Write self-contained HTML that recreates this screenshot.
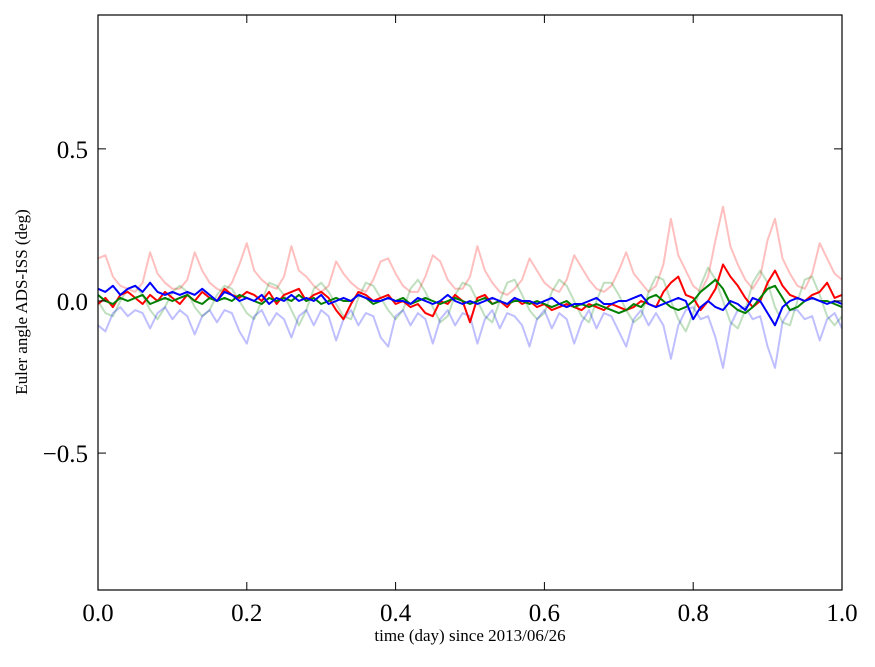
<!DOCTYPE html>
<html><head><meta charset="utf-8"><style>
body{margin:0;background:#fff}
svg text{font-family:"Liberation Serif",serif;fill:#000}
</style></head><body>
<svg id="chart" width="875" height="662"></svg>
<script>
const xTicks=[0,0.2,0.4,0.6,0.8,1.0];
const xTickLabels=["0.0","0.2","0.4","0.6","0.8","1.0"];
const yTicks=[-0.5,0,0.5];
const yTickLabels=["\u22120.5","0.0","0.5"];
const tStep=0.01;
const redFaded=[0.14,0.15,0.08,0.05,0.04,0.03,0.06,0.16,0.09,0.06,0.04,0.04,0.07,0.16,0.10,0.06,0.04,0.03,0.06,0.12,0.19,0.10,0.07,0.05,0.04,0.08,0.18,0.10,0.08,0.05,0.03,0.05,0.13,0.09,0.06,0.04,0.03,0.07,0.13,0.14,0.09,0.05,0.03,0.03,0.08,0.15,0.13,0.07,0.04,0.04,0.08,0.18,0.10,0.06,0.03,0.02,0.04,0.07,0.14,0.10,0.06,0.04,0.03,0.07,0.15,0.11,0.07,0.04,0.03,0.05,0.10,0.16,0.09,0.06,0.03,0.05,0.12,0.27,0.15,0.10,0.05,0.03,0.08,0.20,0.31,0.18,0.12,0.07,0.04,0.08,0.20,0.27,0.14,0.09,0.05,0.04,0.09,0.19,0.14,0.09,0.07];
const blueFaded=[-0.08,-0.10,-0.04,-0.02,-0.05,-0.03,-0.04,-0.09,-0.04,-0.02,-0.06,-0.03,-0.05,-0.11,-0.05,-0.03,-0.07,-0.03,-0.04,-0.10,-0.14,-0.05,-0.03,-0.08,-0.04,-0.06,-0.12,-0.05,-0.03,-0.08,-0.03,-0.05,-0.13,-0.06,-0.03,-0.08,-0.04,-0.05,-0.12,-0.15,-0.05,-0.03,-0.08,-0.04,-0.06,-0.14,-0.06,-0.03,-0.08,-0.04,-0.05,-0.14,-0.06,-0.03,-0.09,-0.04,-0.05,-0.08,-0.15,-0.06,-0.03,-0.09,-0.04,-0.06,-0.14,-0.07,-0.03,-0.09,-0.04,-0.05,-0.10,-0.15,-0.06,-0.03,-0.08,-0.04,-0.08,-0.19,-0.08,-0.03,-0.02,-0.06,-0.05,-0.12,-0.22,-0.08,-0.03,-0.02,-0.06,-0.05,-0.15,-0.22,-0.07,-0.03,-0.03,-0.06,-0.05,-0.13,-0.06,-0.04,-0.09];
const greenFaded=[0.0,-0.04,-0.05,0.0,0.04,0.05,0.02,-0.03,-0.06,-0.02,0.03,0.05,0.03,-0.02,-0.05,-0.03,0.02,0.05,0.04,0.0,-0.04,-0.06,0.0,0.06,0.05,0.02,-0.03,-0.08,-0.03,0.04,0.06,0.03,-0.01,-0.05,-0.06,0.01,0.06,0.05,0.01,-0.03,-0.06,-0.03,0.04,0.07,0.03,-0.02,-0.07,-0.05,0.02,0.06,0.05,0.0,-0.05,-0.07,0.0,0.06,0.07,0.02,-0.03,-0.06,-0.04,0.03,0.07,0.05,0.0,-0.05,-0.07,0.0,0.06,0.06,0.02,-0.03,-0.07,-0.05,0.03,0.08,0.07,0.0,-0.06,-0.10,-0.04,0.05,0.11,0.07,0.0,-0.07,-0.09,-0.03,0.06,0.10,0.06,-0.02,-0.07,-0.08,0.0,0.07,0.08,0.02,-0.05,-0.08,-0.05];
const redBold=[-0.01,0.01,-0.02,0.02,0.03,0.01,-0.01,0.02,0.0,0.03,0.01,-0.01,0.02,0.0,0.03,0.01,0.0,0.04,0.02,0.01,0.03,0.02,0.0,0.03,-0.01,0.02,0.03,0.04,0.0,0.02,0.03,0.01,-0.03,-0.06,-0.01,0.03,0.02,0.0,0.01,0.02,-0.01,0.0,-0.02,-0.01,-0.04,-0.05,0.0,-0.01,0.02,0.0,-0.07,0.01,0.02,-0.01,0.0,-0.02,0.01,-0.01,0.0,-0.02,-0.01,-0.03,-0.02,-0.01,-0.02,-0.03,-0.01,-0.02,-0.03,-0.01,-0.02,-0.03,-0.02,0.0,-0.01,-0.02,0.03,0.06,0.08,0.02,0.01,-0.03,0.0,0.04,0.12,0.08,0.05,0.01,-0.02,0.0,0.06,0.10,0.05,0.02,0.01,0.0,0.02,0.03,0.06,0.01,0.02];
const greenBold=[0.02,0.0,-0.01,0.01,0.0,0.01,0.02,-0.01,0.0,0.01,0.0,0.01,0.02,0.0,-0.01,0.01,0.0,0.01,0.0,0.02,0.01,0.0,-0.01,0.01,0.0,0.01,0.0,0.02,0.0,0.01,-0.01,0.0,0.01,0.0,0.0,0.02,0.01,-0.01,0.0,0.01,0.0,0.01,-0.01,0.0,0.01,0.0,-0.01,0.0,0.01,0.0,-0.01,0.0,0.01,-0.01,0.0,-0.01,0.0,0.0,-0.01,0.0,-0.01,-0.02,-0.01,0.0,-0.02,-0.01,-0.02,-0.01,-0.02,-0.03,-0.04,-0.03,-0.01,-0.02,0.01,0.02,0.0,-0.02,-0.03,-0.02,0.0,0.03,0.05,0.07,0.04,-0.01,-0.03,-0.04,-0.02,0.01,0.04,0.05,0.01,-0.03,-0.02,0.0,0.01,0.0,0.0,-0.01,-0.02];
const blueBold=[0.04,0.03,0.05,0.02,0.04,0.05,0.03,0.06,0.03,0.02,0.03,0.02,0.03,0.02,0.04,0.02,0.0,0.03,0.02,0.0,0.01,0.0,0.02,-0.01,0.01,0.0,0.02,0.0,0.01,0.0,0.02,-0.01,0.0,0.01,0.0,0.02,0.01,0.0,0.0,0.01,0.0,0.0,-0.01,0.01,0.0,-0.01,0.0,0.02,0.0,-0.01,0.0,-0.01,0.0,0.01,0.0,-0.01,0.01,0.0,0.0,-0.01,0.0,0.01,-0.01,-0.02,-0.01,-0.01,0.0,0.01,-0.01,-0.01,0.0,0.0,0.01,0.02,-0.01,-0.02,-0.01,0.0,0.01,0.0,-0.06,-0.02,0.0,-0.02,-0.03,0.0,-0.01,-0.03,0.01,0.0,-0.04,-0.08,-0.02,0.0,0.01,0.0,0.01,0.0,-0.01,0.0,-0.01];

const L=98,R=842,T=15,B=590,yMin=-0.95,yMax=0.94;
const xs=v=>L+(v-0)/(1-0)*(R-L);
const ys=v=>B-(v-yMin)/(yMax-yMin)*(B-T);
const svg=document.getElementById('chart');
const NS='http://www.w3.org/2000/svg';
function mk(tag,attrs,parent){const e=document.createElementNS(NS,tag);for(const k in attrs)e.setAttribute(k,attrs[k]);(parent||svg).appendChild(e);return e;}
const clip=mk('clipPath',{id:'pc'});mk('rect',{x:L,y:T,width:R-L,height:B-T},clip);
function series(arr,color,op,w,name){
  const d=arr.map((v,i)=>(i?'L':'M')+xs(i*tStep).toFixed(1)+','+ys(v).toFixed(1)).join('');
  const p=mk('path',{d:d,fill:'none',stroke:color,'stroke-opacity':op,'stroke-width':w,'clip-path':'url(#pc)','stroke-linejoin':'round'});
  
  
}
series(redFaded,'#ff0000',0.25,2,'series-red-faded');
series(greenFaded,'#008000',0.25,2,'series-green-faded');
series(blueFaded,'#0000ff',0.25,2,'series-blue-faded');
series(redBold,'#ff0000',1,2,'series-red');
series(greenBold,'#008000',1,2,'series-green');
series(blueBold,'#0000ff',1,2,'series-blue');
const frame=mk('rect',{x:L,y:T,width:R-L,height:B-T,fill:'none',stroke:'#000','stroke-width':1.2});


xTicks.forEach((v,i)=>{
  const x=xs(v);
  mk('line',{x1:x,x2:x,y1:B,y2:B-8,stroke:'#000'});
  mk('line',{x1:x,x2:x,y1:T,y2:T+8,stroke:'#000'});
  const t=mk('text',{x:x,y:B+31,'text-anchor':'middle','font-size':25});
  t.textContent=xTickLabels[i];
  
  
});
yTicks.forEach((v,i)=>{
  const y=ys(v);
  mk('line',{x1:L,x2:L+8,y1:y,y2:y,stroke:'#000'});
  mk('line',{x1:R,x2:R-8,y1:y,y2:y,stroke:'#000'});
  const t=mk('text',{x:L-10,y:y+9,'text-anchor':'end','font-size':25});
  t.textContent=yTickLabels[i];
  
  
});
const xl=mk('text',{x:470,y:641,'text-anchor':'middle','font-size':17});
xl.textContent='time (day) since 2013/06/26';


const yl=mk('text',{x:0,y:0,'text-anchor':'middle','font-size':17,transform:'translate(27,302) rotate(-90)'});
yl.textContent='Euler angle ADS-ISS (deg)';


</script>
</body></html>
